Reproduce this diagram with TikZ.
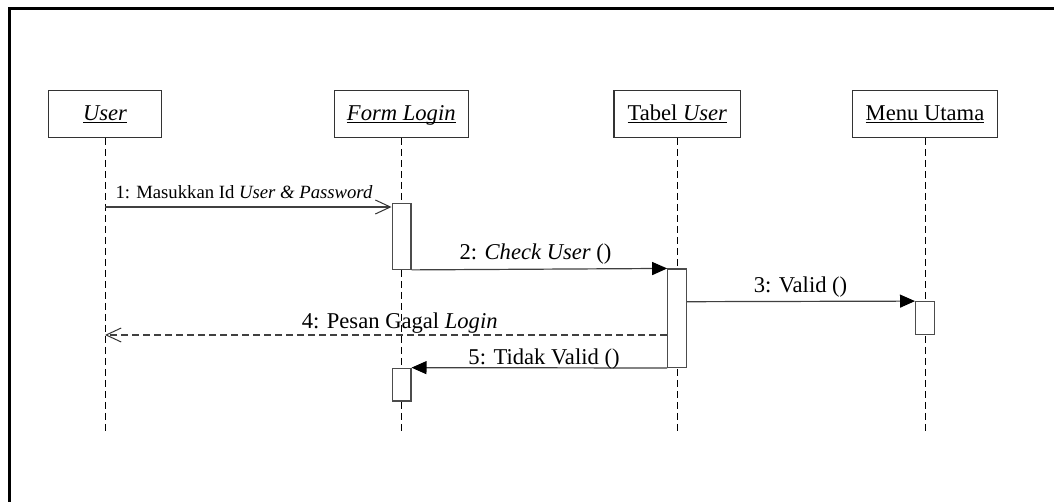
\documentclass[tikz,border=0pt]{standalone}
\usepackage{fontspec}
\setmainfont{Liberation Serif}
\usetikzlibrary{arrows.meta}
\newcommand\ulx[1]{\setbox0\hbox{#1}\rlap{\rule[-2.4pt]{\wd0}{0.9pt}}\box0}
\begin{document}
\begin{tikzpicture}[x=1pt,y=-1pt,
  actor/.style={draw=black!80,line width=1.2pt,minimum height=46.5pt,inner sep=0pt,
    text height=14pt,text depth=0pt,font=\fontsize{22.6}{24}\selectfont},
  lifeline/.style={draw=black,line width=0.8pt,dash pattern=on 7pt off 4pt},
  act/.style={draw=black!70,line width=1.2pt,fill=white,minimum width=18.8pt,inner sep=0pt},
  msg/.style={draw=black!75,line width=1.2pt,-{Triangle[length=15pt,width=13pt,color=black]}},
  amsg/.style={draw=black!75,line width=1.2pt,-{Straight Barb[length=15pt,width=14pt,line width=1pt,color=black!80]}},
  rmsg/.style={amsg,dash pattern=on 7pt off 4pt},
  lbl/.style={anchor=base,inner sep=0pt,font=\fontsize{22.6}{24}\selectfont},
  slbl/.style={anchor=base,inner sep=0pt,font=\fontsize{18.7}{20}\selectfont}]
\useasboundingbox (0,0) rectangle (1054,502);
\clip (0,0) rectangle (1054,502);
\draw[line width=3pt] (9,520) -- (9,9) -- (1070,9);

% actors
\node[actor,minimum width=113.4pt] (user) at (105,114) {\ulx{\itshape User}};
\node[actor,minimum width=134pt] (form) at (401.3,114) {\ulx{\itshape Form Login}};
\node[actor,minimum width=126.7pt] (tabel) at (677.3,114) {\ulx{Tabel \itshape User}};
\node[actor,minimum width=144.6pt] (menu) at (925,114) {\ulx{Menu Utama}};

% lifeline ends
\coordinate (userEnd) at (105,433);
\coordinate (formEnd) at (401.3,433);
\coordinate (tabelEnd) at (677.3,433);
\coordinate (menuEnd) at (925,433);
\draw[lifeline] (user.south) -- (userEnd);
\draw[lifeline] (form.south) -- (formEnd);
\draw[lifeline] (tabel.south) -- (tabelEnd);
\draw[lifeline] (menu.south) -- (menuEnd);

% activations
\node[act,minimum height=66pt] (a1) at (401.5,236.3) {};
\node[act,minimum height=98.3pt] (a2) at (677.2,318.2) {};
\node[act,minimum height=32.6pt] (a3) at (925,318) {};
\node[act,minimum height=32.7pt] (a4) at (401.5,384.6) {};

% message rows
\coordinate (m1) at (0,207);
\coordinate (m3) at (0,301.7);
\coordinate (m4) at (0,335);
\coordinate (m5) at (0,368);

\draw[amsg] (user |- m1) -- (a1.west |- m1);
\draw[msg] (a1.south east) -- (a2.north west);
\draw[msg] (a2.east |- m3) -- (a3.north west);
\draw[rmsg] (a2.west |- m4) -- (user |- m4);
\draw[msg] (a2.west |- m5) -- (a4.north east);

% labels
\node[slbl] (l1) at (244,198.5) {1: Masukkan Id \textit{User \& Password}};
\node[lbl] (l2) at (535.5,260) {2: \textit{Check User} ()};
\node[lbl] (l3) at (800.5,292.7) {3: Valid ()};
\node[lbl] (l4) at (399.7,328.3) {4: Pesan Gagal \textit{Login}};
\node[lbl] (l5) at (544,364.3) {5: Tidak Valid ()};
\end{tikzpicture}
\end{document}
